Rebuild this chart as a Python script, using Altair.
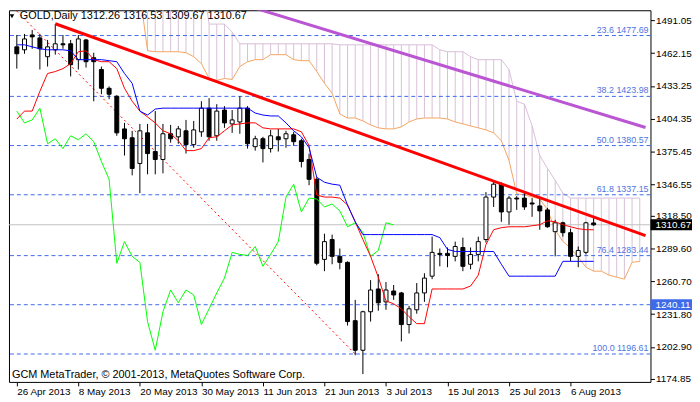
import json
import altair as alt
import pandas as pd

# ---------------- layout constants ----------------
W, H = 649, 376
X_DOMAIN = [-0.375, 81.75]
Y_DOMAIN = [1171.97, 1500.0]
FONT = "Liberation Sans, Arial, sans-serif"

# ---------------- axis labels ----------------
date_labels = ["26 Apr 2013", "8 May 2013", "20 May 2013", "30 May 2013", "11 Jun 2013",
               "21 Jun 2013", "3 Jul 2013", "15 Jul 2013", "25 Jul 2013", "6 Aug 2013"]
date_ticks = [0, 8, 16, 24, 32, 40, 48, 56, 64, 72]
price_ticks = [1491.05, 1462.15, 1433.25, 1404.35, 1375.45, 1346.55,
               1318.50, 1289.60, 1260.70, 1231.80, 1202.90, 1174.85]

# ---------------- daily candles (bar 0 = 26 Apr 2013) ----------------
opens = [1467.7, 1465.1, 1478.2, 1475.6, 1459.0, 1465.1, 1470.4, 1470.4, 1456.4, 1473.8,
         1458.1, 1447.7, 1431.1, 1424.1, 1395.3, 1387.5, 1364.8, 1391.8, 1375.3, 1368.3,
         1391.0, 1388.3, 1393.6, 1381.4, 1392.7, 1413.6, 1389.2, 1411.9, 1399.7, 1401.4,
         1413.6, 1379.6, 1386.6, 1377.9, 1388.3, 1386.6, 1390.1, 1384.8, 1368.3, 1350.8,
         1280.1, 1297.6, 1282.8, 1277.5, 1226.0, 1199.9, 1233.9, 1254.0, 1242.6, 1252.2,
         1250.5, 1222.6, 1235.6, 1250.5, 1265.3, 1285.4, 1285.4, 1282.8, 1290.6, 1275.8,
         1284.5, 1297.6, 1335.1, 1346.5, 1322.0, 1334.2, 1334.2, 1329.9, 1327.3, 1323.8,
         1304.6, 1312.4, 1303.7, 1282.8, 1286.3, 1312.26]
highs = [1478.2, 1479.1, 1482.6, 1479.1, 1473.8, 1487.8, 1478.2, 1473.8, 1478.2, 1474.7,
         1462.5, 1450.3, 1432.8, 1425.0, 1400.6, 1393.6, 1399.7, 1399.7, 1411.0, 1399.7,
         1398.8, 1397.9, 1403.2, 1402.3, 1419.7, 1422.4, 1417.1, 1415.4, 1411.9, 1424.1,
         1415.4, 1389.2, 1388.3, 1394.4, 1395.3, 1393.6, 1392.7, 1386.6, 1373.5, 1352.6,
         1302.8, 1302.0, 1289.7, 1278.4, 1244.4, 1234.8, 1261.8, 1267.1, 1260.1, 1257.5,
         1251.4, 1239.1, 1259.2, 1267.9, 1300.2, 1289.7, 1290.6, 1295.8, 1299.3, 1290.6,
         1300.2, 1339.5, 1349.1, 1348.2, 1336.0, 1336.0, 1338.6, 1334.2, 1335.1, 1325.5,
         1315.0, 1313.3, 1307.2, 1291.5, 1313.3, 1316.53]
lows = [1448.5, 1461.6, 1466.0, 1447.7, 1450.3, 1460.8, 1466.0, 1441.6, 1447.7, 1449.4,
        1419.7, 1425.9, 1421.5, 1389.2, 1371.8, 1354.3, 1338.6, 1355.2, 1355.2, 1356.1,
        1383.1, 1382.2, 1373.5, 1378.7, 1388.3, 1384.8, 1384.8, 1396.2, 1391.8, 1391.0,
        1377.9, 1376.1, 1365.7, 1374.4, 1375.3, 1378.7, 1380.5, 1361.3, 1345.6, 1274.9,
        1269.7, 1275.8, 1271.4, 1221.7, 1195.5, 1178.9, 1225.2, 1234.8, 1235.6, 1244.4,
        1207.7, 1214.7, 1232.2, 1242.6, 1262.7, 1274.0, 1273.2, 1278.4, 1269.7, 1271.4,
        1278.4, 1294.9, 1326.4, 1313.3, 1310.7, 1323.8, 1323.8, 1317.7, 1306.3, 1308.1,
        1282.8, 1300.2, 1278.4, 1273.2, 1284.5, 1309.67]
closes = [1461.6, 1474.7, 1476.5, 1466.0, 1467.7, 1470.4, 1469.5, 1452.0, 1474.7, 1454.6,
          1454.6, 1431.1, 1425.9, 1391.8, 1386.6, 1360.4, 1393.6, 1373.5, 1368.3, 1391.0,
          1386.6, 1395.3, 1381.4, 1394.4, 1413.6, 1388.3, 1411.0, 1400.6, 1403.2, 1413.6,
          1382.2, 1386.6, 1377.9, 1389.2, 1385.7, 1391.0, 1384.0, 1366.5, 1350.8, 1276.7,
          1295.8, 1282.8, 1277.5, 1225.2, 1199.9, 1233.9, 1253.1, 1241.8, 1253.1, 1248.7,
          1222.6, 1236.5, 1250.5, 1263.6, 1286.3, 1284.5, 1283.6, 1291.5, 1274.0, 1284.5,
          1295.8, 1335.1, 1346.5, 1322.0, 1334.2, 1333.4, 1326.4, 1329.0, 1322.9, 1308.9,
          1312.4, 1303.7, 1282.8, 1288.0, 1312.4, 1310.67]

# ---------------- Ichimoku ----------------
tenkan = [1404.0, 1411.0, 1411.0, 1428.5, 1444.2, 1445.9, 1448.5, 1452.9, 1463.4, 1464.2,
          1456.4, 1454.6, 1454.6, 1448.5, 1431.1, 1419.7, 1411.0, 1405.8, 1400.6, 1393.6,
          1391.0, 1384.8, 1376.1, 1376.1, 1377.9, 1387.5, 1388.3, 1393.6, 1398.8, 1399.7,
          1400.6, 1400.6, 1396.2, 1395.3, 1395.3, 1395.3, 1395.3, 1392.7, 1380.5, 1336.9,
          1335.1, 1335.1, 1334.2, 1328.1, 1313.3, 1297.6, 1282.8, 1264.4, 1243.5, 1240.9,
          1236.5, 1229.5, 1223.4, 1223.4, 1254.0, 1254.0, 1254.0, 1254.0, 1254.0, 1256.6,
          1266.2, 1293.2, 1306.3, 1308.1, 1308.9, 1308.9, 1308.9, 1309.8, 1310.7, 1314.2,
          1313.3, 1310.7, 1308.9, 1307.2, 1306.3, 1306.3]
kijun = [1469.5, 1469.5, 1467.7, 1466.0, 1465.1, 1465.1, 1465.1, 1464.2, 1456.4, 1456.4,
         1456.4, 1456.4, 1455.5, 1454.6, 1444.2, 1435.5, 1411.0, 1407.5, 1412.8, 1413.6,
         1413.6, 1413.6, 1413.6, 1413.6, 1413.6, 1413.6, 1413.6, 1413.6, 1413.6, 1413.6,
         1413.6, 1409.3, 1407.5, 1406.7, 1406.7, 1400.6, 1393.6, 1388.3, 1378.7, 1352.6,
         1348.2, 1346.5, 1345.6, 1328.1, 1313.3, 1302.0, 1302.0, 1302.0, 1302.0, 1302.0,
         1302.0, 1302.0, 1302.0, 1302.0, 1302.0, 1299.3, 1288.9, 1287.1, 1287.1, 1287.1,
         1287.1, 1287.1, 1287.1, 1275.8, 1265.3, 1265.3, 1265.3, 1265.3, 1265.3, 1265.3,
         1265.3, 1278.4, 1278.4, 1278.4, 1278.4, 1278.4]
cloud_start = 16
senkou_a = [1515.0, 1464.2, 1463.4, 1463.4, 1463.4, 1463.4, 1462.5, 1459.0, 1452.9, 1439.8,
            1438.1, 1439.8, 1438.9, 1450.3, 1454.6, 1456.4, 1456.4, 1460.8, 1460.8, 1460.8,
            1456.4, 1455.5, 1455.5, 1445.9, 1435.5, 1426.7, 1408.4, 1404.9, 1404.9, 1402.3,
            1398.8, 1396.2, 1395.3, 1395.3, 1397.1, 1401.4, 1404.0, 1404.9, 1404.9, 1404.9,
            1404.0, 1401.4, 1399.7, 1397.9, 1396.2, 1394.4, 1391.8, 1384.8, 1367.4, 1338.0,
            1337.0, 1335.1, 1333.4, 1324.0, 1306.0, 1296.0, 1290.0, 1282.0, 1273.2, 1269.7,
            1269.7, 1266.2, 1264.4, 1262.7, 1277.5, 1278.4]
senkou_b = [1535.0, 1535.0, 1535.0, 1535.0, 1535.0, 1535.0, 1535.0, 1535.0, 1535.0, 1487.8,
            1487.8, 1487.8, 1480.8, 1470.4, 1470.4, 1470.4, 1470.4, 1470.4, 1470.4, 1470.4,
            1470.4, 1470.4, 1470.4, 1470.4, 1470.4, 1470.4, 1469.5, 1469.5, 1469.5, 1469.5,
            1469.5, 1469.5, 1469.5, 1469.5, 1469.5, 1469.5, 1469.5, 1469.5, 1469.5, 1465.1,
            1463.4, 1463.4, 1463.4, 1459.0, 1456.4, 1456.4, 1456.4, 1456.4, 1447.7, 1419.7,
            1417.1, 1397.9, 1371.8, 1360.4, 1349.9, 1338.6, 1334.2, 1334.2, 1334.2, 1334.2,
            1334.2, 1334.2, 1334.2, 1334.2, 1334.2, 1334.2]
chikou_shift = 26

# ---------------- drawn objects ----------------
fib_pcts = ["23.6", "38.2", "50.0", "61.8", "76.4", "100.0"]
fib_levels = [1477.69, 1423.98, 1380.57, 1337.15, 1283.44, 1196.61]
hline_price = 1240.11
symbol = "GOLD,Daily"
copyright_text = "GCM MetaTrader, \u00a9 2001-2013, MetaQuotes Software Corp."
red_trend_bar = [5, 81.75]
red_trend_price = [1488.1, 1301.1]
purple_trend_bar = [28, 81.75]
purple_trend_price = [1508.0, 1396.5]
fib_diag_bar = [-9.5, 44]
fib_diag_price = [1564.53, 1196.61]

# ---------------- frames ----------------
n = len(opens)
bars = list(range(n))
candles = pd.DataFrame({"bar": bars, "open": opens, "high": highs, "low": lows, "close": closes})
ind = pd.DataFrame({"bar": bars, "tenkan": tenkan, "kijun": kijun})
chikou = pd.DataFrame({"bar": bars[: n - chikou_shift], "chikou": closes[chikou_shift:]})
cloud = pd.DataFrame({"bar": list(range(cloud_start, cloud_start + len(senkou_a))),
                      "a": senkou_a, "b": senkou_b})
fib = pd.DataFrame({"price": fib_levels,
                    "label": [f"{p} {v:.2f}" for p, v in zip(fib_pcts, fib_levels)]})
hlines = pd.DataFrame({"price": fib_levels + [hline_price]})
last_close = closes[-1]
boxes = pd.DataFrame({"price": [last_close, hline_price],
                      "label": [f"{last_close:.2f}", f"{hline_price:.2f}"],
                      "bg": ["black", "#3F6AE8"]})
red_trend = pd.DataFrame({"bar": red_trend_bar, "price": red_trend_price})
purple_trend = pd.DataFrame({"bar": purple_trend_bar, "price": purple_trend_price})
fib_diag = pd.DataFrame({"bar": fib_diag_bar, "price": fib_diag_price})
one = pd.DataFrame({"k": [0]})

header = f"{symbol}  {opens[-1]:.2f} {highs[-1]:.2f} {lows[-1]:.2f} {closes[-1]:.2f}"

# ---------------- encodings ----------------
x_axis = alt.Axis(values=date_ticks,
                  labelExpr=json.dumps(date_labels) + "[round(datum.value / 8)]",
                  orient="bottom", tickSize=4, tickColor="black", labelAlign="left",
                  labelBaseline="top", labelPadding=1, labelFont=FONT, labelFontSize=10,
                  labelColor="black", domain=False, grid=False, title=None,
                  labelOverlap=False, labelFlush=False, labelBound=False)
y_axis = alt.Axis(values=price_ticks, format=".2f", orient="right", tickSize=4,
                  tickColor="black", labelPadding=1, labelFont=FONT, labelFontSize=10,
                  labelColor="black", domain=False, grid=False, title=None,
                  labelOverlap=False, labelFlush=False, labelBound=False)


def X(field="bar"):
    return alt.X(f"{field}:Q", scale=alt.Scale(domain=X_DOMAIN, nice=False, zero=False), axis=x_axis)


def Y(field):
    return alt.Y(f"{field}:Q", scale=alt.Scale(domain=Y_DOMAIN, nice=False, zero=False), axis=y_axis)


BOX = "M-1,-0.26L1,-0.26L1,0.26L-1,0.26Z"

layers = [
    alt.Chart(cloud).mark_rule(color="#D8BFD8", strokeWidth=1, clip=True).encode(x=X(), y=Y("a"), y2="b"),
    alt.Chart(cloud).mark_line(color="#F4A460", strokeWidth=1, clip=True).encode(x=X(), y=Y("a")),
    alt.Chart(cloud).mark_line(color="#D8BFD8", strokeWidth=1, clip=True).encode(x=X(), y=Y("b")),
    alt.Chart(hlines).mark_rule(color="#3F6AE8", strokeWidth=1, strokeDash=[4, 3]).encode(y=Y("price")),
    alt.Chart(pd.DataFrame({"price": [last_close]})).mark_rule(color="#C0C0C0", strokeWidth=1).encode(y=Y("price")),
    alt.Chart(fib).mark_text(align="right", baseline="bottom", dy=-1, font=FONT, fontSize=9,
                             color="#4F74E0").encode(x=alt.value(W - 2), y=Y("price"), text="label:N"),
    alt.Chart(fib_diag).mark_line(color="#FF0000", strokeWidth=1, strokeDash=[2, 3], clip=True).encode(x=X(), y=Y("price")),
    alt.Chart(candles).mark_rule(color="black", strokeWidth=1, clip=True).encode(x=X(), y=Y("low"), y2="high"),
    alt.Chart(candles).mark_bar(size=4, stroke="black", strokeWidth=1, clip=True, opacity=1).encode(
        x=X(), y=Y("open"), y2="close",
        fill=alt.condition("datum.close > datum.open", alt.value("white"), alt.value("black"))),
    alt.Chart(chikou).mark_line(color="#00FF00", strokeWidth=1, clip=True).encode(x=X(), y=Y("chikou")),
    alt.Chart(ind).mark_line(color="#FF0000", strokeWidth=1, clip=True).encode(x=X(), y=Y("tenkan")),
    alt.Chart(ind).mark_line(color="#0000FF", strokeWidth=1, clip=True).encode(x=X(), y=Y("kijun")),
    alt.Chart(red_trend).mark_line(color="#FF0000", strokeWidth=3, clip=True).encode(x=X(), y=Y("price")),
    alt.Chart(purple_trend).mark_line(color="#BA55D3", strokeWidth=3, clip=True).encode(x=X(), y=Y("price")),
    alt.Chart(one).mark_point(shape="triangle-down", filled=True, color="black", size=22, opacity=1).encode(
        x=alt.value(3), y=alt.value(6)),
    alt.Chart(one).mark_text(align="left", baseline="middle", font=FONT, fontSize=11, color="black").encode(
        x=alt.value(11), y=alt.value(6), text=alt.value(header)),
    alt.Chart(one).mark_text(align="left", baseline="middle", font=FONT, fontSize=11, color="black").encode(
        x=alt.value(3), y=alt.value(H - 7), text=alt.value(copyright_text)),
    alt.Chart(boxes).mark_point(shape=BOX, size=42 * 42, filled=True, opacity=1, strokeWidth=0).encode(
        x=alt.value(W + 21), y=Y("price"), fill=alt.Fill("bg:N", scale=None)),
    alt.Chart(boxes).mark_text(align="left", baseline="middle", font=FONT, fontSize=10, color="white").encode(
        x=alt.value(W + 5), y=Y("price"), text="label:N"),
]

chart = alt.layer(*layers).properties(
    width=W, height=H, padding=0, background="white"
).configure_view(stroke="black", strokeWidth=1)

chart.save("out.html", embed_options={"renderer": "svg", "actions": False})
